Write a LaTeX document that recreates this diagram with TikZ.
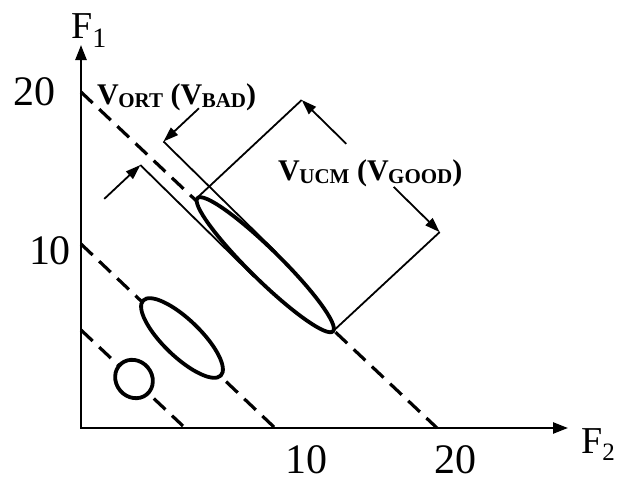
\documentclass[tikz,border=0pt]{standalone}
\usepackage{fontspec}
\setmainfont{Liberation Serif}
\usetikzlibrary{arrows.meta}
\newcommand{\vsubl}[1]{V\kern-0.5pt\raisebox{-3pt}{\fontsize{21}{21}\selectfont #1}}
\begin{document}
\begin{tikzpicture}[x=1pt,y=-1pt,
  axisline/.style={line width=2.4pt},
  guide/.style={line width=3.2pt, dash pattern=on 16pt off 9pt},
  blob/.style={line width=3.8pt, fill=white},
  bracket/.style={line width=1.8pt},
  arr/.style={line width=1.8pt, -{Triangle[length=15pt,width=10pt]}},
  ticklab/.style={font=\fontsize{42}{42}\selectfont, inner sep=0pt},
  axlab/.style={font=\fontsize{38}{38}\selectfont, anchor=base west, inner sep=0pt},
  vlab/.style={font=\fontsize{30}{30}\selectfont\bfseries, anchor=base west, inner sep=0pt}]
\useasboundingbox (0,0) rectangle (625,482);

% axes
\coordinate (O) at (81,428);
\coordinate (Ytip) at (81,45);
\coordinate (Xtip) at (568,428);
\draw[axisline, {Triangle[length=15pt,width=11pt]}-{Triangle[length=15pt,width=11pt]}] (Ytip) -- (O) -- (Xtip);

\node[axlab] (F1) at (71,38) {F\raisebox{-9pt}{\fontsize{28}{28}\selectfont 1}};
\node[axlab] (F2) at (581,453) {F\raisebox{-7pt}{\fontsize{25}{25}\selectfont 2}};

\node[ticklab] (y20) at (34,92) {20};
\node[ticklab] (y10) at (50,251) {10};
\node[ticklab] (x10) at (306,460) {10};
\node[ticklab] (x20) at (455,460) {20};

% dashed iso-lines
\coordinate (d1a) at (81,92);  \coordinate (d1b) at (437,428);
\coordinate (d2a) at (81,244); \coordinate (d2b) at (275,428);
\coordinate (d3a) at (81,330); \coordinate (d3b) at (183,426);
\draw[guide] (d1a) -- (d1b);
\draw[guide] (d2a) -- (d2b);
\draw[guide] (d3a) -- (d3b);

% small and middle ellipses
\draw[blob, rotate around={-50:(134,379)}] (134,379) ellipse [x radius=20, y radius=18];
\draw[blob, rotate around={-44:(182,338)}] (182,338) ellipse [x radius=54, y radius=18.5];

% large ellipse and brackets in a local frame (u along the ellipse, v up-right)
\begin{scope}[shift={(266,264)}, x={(0.713pt,-0.701pt)}, y={(0.701pt,0.713pt)}]
  \draw[blob] (0,-1) ellipse [x radius=95, y radius=15.5];
  % V_ORT bracket
  \coordinate (oa1) at (-159,-17.5); \coordinate (oa2) at (0,-17.5);
  \coordinate (ob1) at (-159,15.5);  \coordinate (ob2) at (0,15.5);
  \draw[bracket] (oa1) -- (oa2);
  \draw[bracket] (ob1) -- (ob2);
  \coordinate (oat) at (-161,-67);
  \coordinate (obt) at (-157,64);
  \draw[arr] (oat) -- (oa1);
  \draw[arr] (obt) -- (ob1);
  % V_UCM bracket
  \coordinate (u1a) at (-95.5,0);  \coordinate (u1b) at (-89.5,142);
  \coordinate (u2a) at (95,1);     \coordinate (u2b) at (101.5,144.5);
  \draw[bracket] (u1a) -- (u1b);
  \draw[bracket] (u2a) -- (u2b);
  \coordinate (u1t) at (-27,142);
  \coordinate (u2t) at (37,144.5);
  \draw[arr] (u1t) -- (u1b);
  \draw[arr] (u2t) -- (u2b);
\end{scope}

\node[vlab] (ort) at (97,104) {\vsubl{ORT} (\vsubl{BAD})};
\node[vlab] (ucm) at (278,180) {\vsubl{UCM} (\vsubl{GOOD})};
\end{tikzpicture}
\end{document}
